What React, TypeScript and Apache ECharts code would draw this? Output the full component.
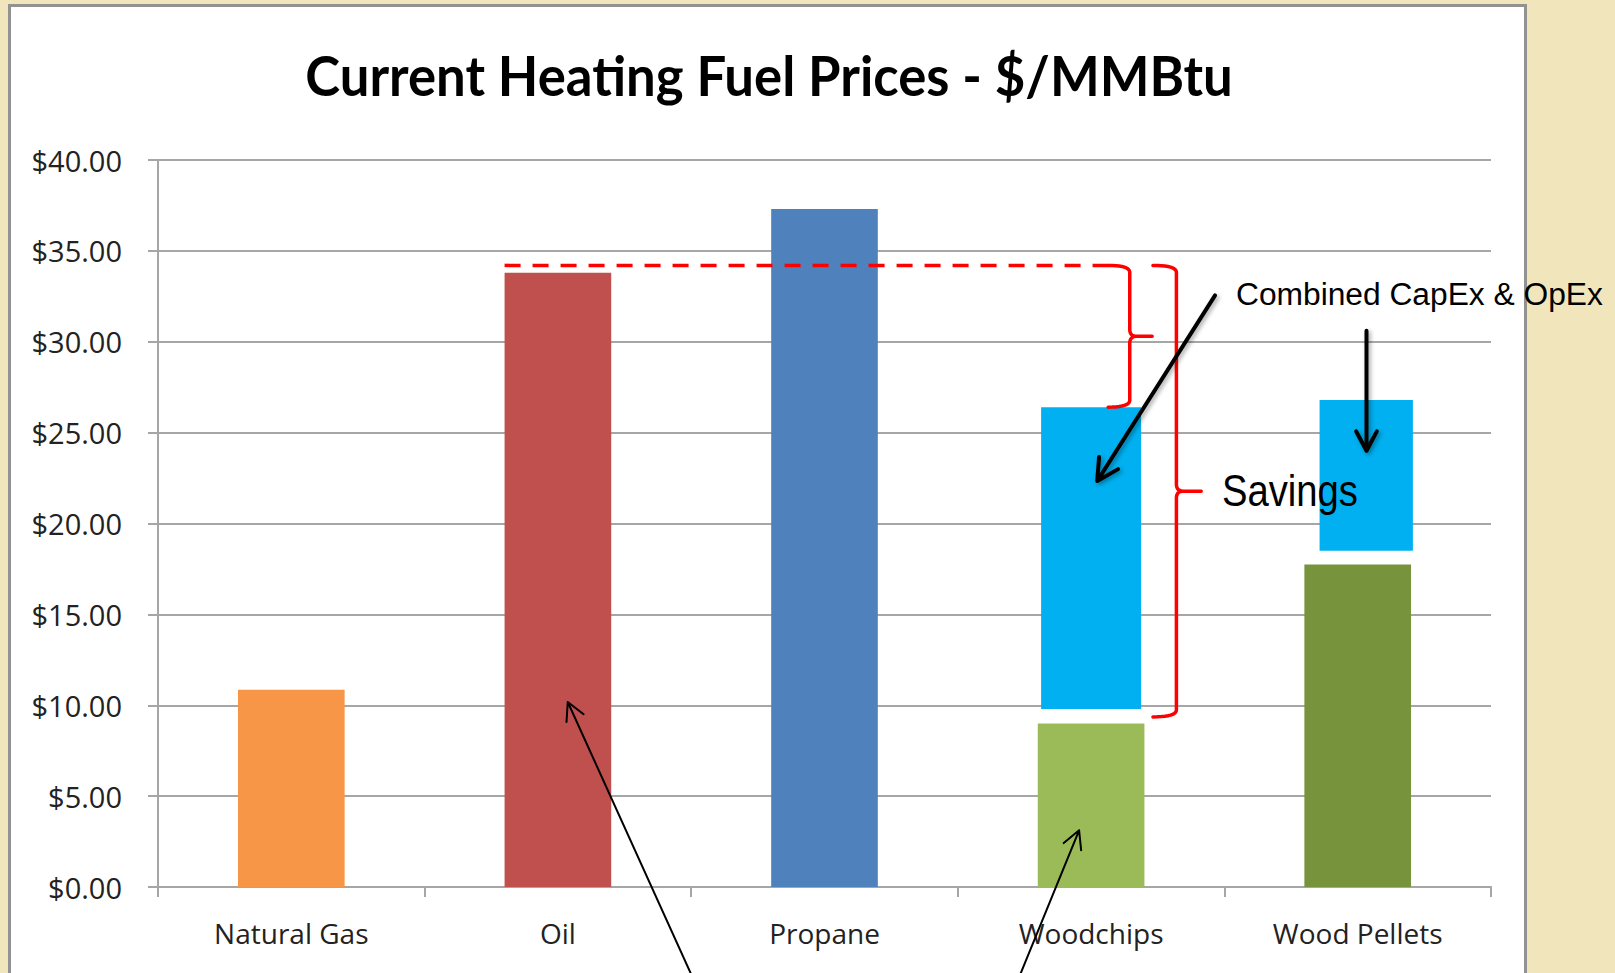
import React, { useEffect, useRef } from 'react';
import * as echarts from 'echarts';

// ---------- data ----------
const categories = ['Natural Gas', 'Oil', 'Propane', 'Woodchips', 'Wood Pellets'];
const fuelPrices = [10.85, 33.8, 37.3, 9.0, 17.75];
const barColors = ['#F79646', '#C0504D', '#4F81BD', '#9BBB59', '#77933C'];

// Combined CapEx & OpEx boxes (category index, low, high)
const capOpExCategory = [3, 4];
const capOpExLow = [9.8, 18.5];
const capOpExHigh = [26.4, 26.8];

// annotation levels ($/MMBtu)
const oilReferenceLevel = 34.2;
const smallBraceBottom = 26.4;
const largeBraceBottom = 9.36;

const yMin = 0;
const yMax = 40;
const yInterval = 5;

const titleText = 'Current Heating Fuel Prices - $/MMBtu';
const savingsText = 'Savings';
const capOpExText = 'Combined CapEx & OpEx';

// ---------- styling helpers ----------
const BLUE = '#00B0F0';
const RED = '#FF0000';
const GRID = '#A6A6A6';
const boxGeom = [
  { w: 0.375, dx: 0 },
  { w: 0.35, dx: 0.032 },
];

function measure(text: string, font: string): number {
  const c = document.createElement('canvas').getContext('2d')!;
  c.font = font;
  return c.measureText(text).width;
}

function quad(p0: number[], c: number[], p1: number[], n = 10): number[][] {
  const pts: number[][] = [];
  for (let i = 0; i <= n; i++) {
    const t = i / n;
    const a = (1 - t) * (1 - t), b = 2 * (1 - t) * t, d = t * t;
    pts.push([a * p0[0] + b * c[0] + d * p1[0], a * p0[1] + b * c[1] + d * p1[1]]);
  }
  return pts;
}

function brace(xL: number, xV: number, xTip: number, yTop: number, yBot: number, r: number) {
  const yMid = (yTop + yBot) / 2;
  const pts: number[][] = [
    ...quad([xL, yTop], [xV, yTop], [xV, yTop + r]),
    ...quad([xV, yMid - r], [xV, yMid], [xV + r, yMid]),
    [xTip, yMid],
    [xV + r, yMid],
    ...quad([xV + r, yMid], [xV, yMid], [xV, yMid + r]),
    ...quad([xV, yBot - r], [xV, yBot], [xL, yBot]),
  ];
  return {
    type: 'polyline',
    z: 100,
    shape: { points: pts },
    style: { stroke: RED, lineWidth: 3.5, fill: null, lineJoin: 'round', lineCap: 'round' },
  };
}

function arrow(from: number[], to: number[], head: number, width: number, shadow: boolean) {
  const ang = Math.atan2(to[1] - from[1], to[0] - from[0]);
  const spread = (28 * Math.PI) / 180;
  const a1 = [to[0] - head * Math.cos(ang - spread), to[1] - head * Math.sin(ang - spread)];
  const a2 = [to[0] - head * Math.cos(ang + spread), to[1] - head * Math.sin(ang + spread)];
  const style: any = { stroke: '#000', lineWidth: width, fill: null, lineCap: 'round', lineJoin: 'round' };
  if (shadow) {
    style.shadowBlur = 4;
    style.shadowColor = 'rgba(0,0,0,0.35)';
    style.shadowOffsetX = 2;
    style.shadowOffsetY = 2;
  }
  return [
    { type: 'polyline', z: 100, shape: { points: [from, to, a1, to, a2] }, style },
  ];
}

export default function App() {
  const ref = useRef<HTMLDivElement>(null);

  useEffect(() => {
    const chart = echarts.init(ref.current!, null, { renderer: 'svg' });

    const option: any = {
      animation: false,
      backgroundColor: 'transparent',
      grid: { left: 158, right: 124, top: 160, bottom: 86, containLabel: false },
      xAxis: {
        type: 'category',
        data: categories,
        axisLine: { show: true, lineStyle: { color: GRID, width: 2 } },
        axisTick: { show: true, length: 10, lineStyle: { color: GRID, width: 2 } },
        axisLabel: { fontFamily: 'Open Sans', fontSize: 28, color: '#222222', margin: 32 },
        splitLine: { show: false },
      },
      yAxis: {
        type: 'value',
        min: yMin,
        max: yMax,
        interval: yInterval,
        axisLine: { show: true, lineStyle: { color: GRID, width: 2 } },
        axisTick: { show: true, length: 10, lineStyle: { color: GRID, width: 2 } },
        axisLabel: {
          fontFamily: 'Open Sans',
          fontSize: 29,
          color: '#222222',
          margin: 36,
          formatter: (v: number) => '$' + v.toFixed(2),
        },
        splitLine: { show: true, lineStyle: { color: GRID, width: 2 } },
      },
      series: [
        {
          type: 'bar',
          barWidth: '40%',
          data: fuelPrices.map((v, i) => ({ value: v, itemStyle: { color: barColors[i] } })),
          z: 2,
        },
        {
          type: 'custom',
          z: 3,
          encode: { x: 0, y: [1, 2] },
          data: capOpExCategory.map((c, i) => [c, capOpExLow[i], capOpExHigh[i]]),
          renderItem: (params: any, api: any) => {
            const c = api.value(0);
            const top = api.coord([c, api.value(2)]);
            const bot = api.coord([c, api.value(1)]);
            const bw = api.size([1, 0])[0];
            const g = boxGeom[params.dataIndex] || { w: 0.375, dx: 0 };
            const w = bw * g.w;
            return {
              type: 'rect',
              shape: { x: top[0] - w / 2 + bw * g.dx, y: top[1], width: w, height: bot[1] - top[1] },
              style: { fill: BLUE },
            };
          },
        },
      ],
    };
    chart.setOption(option);

    // ---------- annotations anchored to the chart scales ----------
    const px = (cat: number, frac: number, v: number): number[] => {
      const p = chart.convertToPixel({ gridIndex: 0 }, [cat, v]) as number[];
      const p0 = chart.convertToPixel({ gridIndex: 0 }, [0, v]) as number[];
      const p1 = chart.convertToPixel({ gridIndex: 0 }, [1, v]) as number[];
      const cw = p1[0] - p0[0];
      return [p[0] + frac * cw, p[1]];
    };

    const dashStart = px(1, -0.2, oilReferenceLevel);
    const sbTop = px(3, 0.064, oilReferenceLevel);
    const sbV = px(3, 0.145, oilReferenceLevel);
    const sbTip = px(3, 0.229, oilReferenceLevel);
    const sbBot = px(3, 0.064, smallBraceBottom);
    const lbTop = px(3, 0.232, oilReferenceLevel);
    const lbV = px(3, 0.32, oilReferenceLevel);
    const lbTip = px(3, 0.413, oilReferenceLevel);
    const lbBot = px(3, 0.232, largeBraceBottom);

    const titleFont = 'bold 56px Lato';
    const titleScale = 928 / measure(titleText, titleFont);
    const capFont = '31px "Liberation Sans"';
    const capScale = 367 / measure(capOpExText, capFont);
    const savFont = '44px "Liberation Sans"';
    const savScale = 136 / measure(savingsText, savFont);

    const elements: any[] = [
      {
        type: 'text',
        z: 100,
        x: 769,
        y: 74,
        scaleX: titleScale,
        style: {
          text: titleText,
          fontFamily: 'Lato',
          fontWeight: 'bold',
          fontSize: 56,
          fill: '#000',
          align: 'center',
          verticalAlign: 'middle',
        },
      },
      {
        type: 'line',
        z: 100,
        shape: { x1: dashStart[0], y1: dashStart[1], x2: sbTop[0], y2: sbTop[1] },
        style: { stroke: RED, lineWidth: 3.5, lineDash: [16, 12] },
      },
      brace(sbTop[0], sbV[0], sbTip[0], sbTop[1], sbBot[1], 7),
      brace(lbTop[0], lbV[0], lbTip[0], lbTop[1], lbBot[1], 7),
      ...arrow(px(3, 0.465, 32.55), px(3, 0.023, 22.34), 24, 4, true),
      ...arrow(px(4, 0.033, 30.6), px(4, 0.033, 24.0), 22, 4, true),
      ...arrow(px(1, 0.527, -5.68), px(1, 0.037, 10.18), 20, 2, false),
      ...arrow(px(3, -0.29, -5.68), px(3, -0.045, 3.12), 20, 2, false),
      {
        type: 'text',
        z: 101,
        x: 1236,
        y: 295,
        scaleX: capScale,
        style: {
          text: capOpExText,
          fontFamily: 'Liberation Sans',
          fontSize: 31,
          fill: '#000',
          align: 'left',
          verticalAlign: 'middle',
        },
      },
      {
        type: 'text',
        z: 101,
        x: 1222,
        y: 491,
        scaleX: savScale,
        style: {
          text: savingsText,
          fontFamily: 'Liberation Sans',
          fontSize: 44,
          fill: '#000',
          align: 'left',
          verticalAlign: 'middle',
        },
      },
    ];

    chart.setOption({ graphic: { elements } });

    return () => chart.dispose();
  }, []);

  return (
    <div
      style={{
        position: 'fixed',
        left: 0,
        top: 0,
        width: 1615,
        height: 973,
        background: '#F1E6BB',
        overflow: 'hidden',
      }}
    >
      <div
        style={{
          position: 'absolute',
          left: 8,
          top: 4,
          width: 1519,
          height: 1100,
          background: '#FFFFFF',
          border: '3px solid #929292',
          boxSizing: 'border-box',
        }}
      />
      <div ref={ref} style={{ position: 'absolute', left: 0, top: 0, width: 1615, height: 973 }} />
    </div>
  );
}
